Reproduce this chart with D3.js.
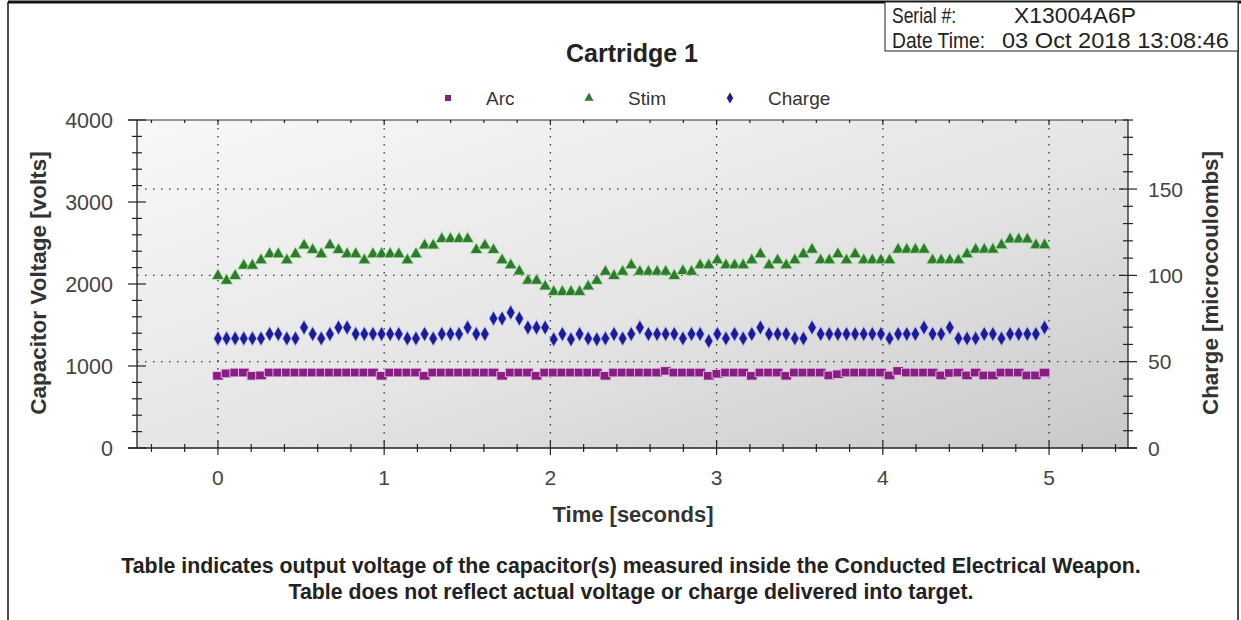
<!DOCTYPE html>
<html>
<head>
<meta charset="utf-8">
<script src="https://cdn.jsdelivr.net/npm/d3@7"></script>
<style>
  body { margin: 0; background: #fff; }
  text { font-family: "Liberation Sans", Arial, sans-serif; }
</style>
</head>
<body>
<div id="chart"></div>
<script>
// readings, one per sample (Arc and Stim in volts, Charge in microcoulombs)
var sampleInterval = 0.0518; // seconds between samples
var arcVolts = [880, 910, 920, 920, 880, 885, 920, 920, 920, 920, 920, 920, 920, 920, 920, 920, 920, 920, 920, 880,
  920, 920, 920, 920, 880, 920, 920, 920, 920, 920, 920, 920, 920, 880, 920, 920, 920, 880, 920, 920,
  920, 920, 920, 920, 920, 880, 920, 920, 920, 920, 920, 920, 940, 920, 920, 920, 920, 880, 905, 920,
  920, 920, 880, 920, 920, 920, 880, 920, 920, 920, 920, 885, 900, 920, 920, 920, 920, 920, 885, 940,
  920, 920, 920, 920, 885, 915, 920, 885, 920, 885, 885, 920, 920, 920, 885, 885, 920];
var stimVolts = [2100, 2040, 2100, 2225, 2225, 2290, 2365, 2365, 2290, 2365, 2470, 2415, 2365, 2475, 2415, 2365, 2365, 2290, 2365, 2365,
  2365, 2365, 2290, 2365, 2470, 2470, 2550, 2550, 2550, 2550, 2415, 2470, 2415, 2290, 2230, 2155, 2040, 2040, 1970, 1905,
  1905, 1905, 1905, 1970, 2040, 2150, 2100, 2150, 2230, 2150, 2150, 2150, 2150, 2100, 2160, 2150, 2230, 2230, 2290, 2230,
  2230, 2230, 2290, 2365, 2230, 2290, 2230, 2290, 2365, 2420, 2290, 2290, 2365, 2290, 2365, 2290, 2290, 2290, 2290, 2420,
  2420, 2420, 2420, 2290, 2290, 2290, 2290, 2365, 2420, 2420, 2420, 2475, 2545, 2545, 2545, 2475, 2475];
var chargeUC = [63.5, 63.5, 63.5, 63.5, 63.5, 63.5, 66, 66, 63.5, 63.5, 69.8, 66, 63.5, 66, 69.8, 69.8, 66, 66, 66, 66,
  66, 66, 63.5, 63.5, 66, 63.5, 66, 66, 66, 69.8, 66, 66, 75, 75, 78.5, 75, 69.8, 69.8, 69.8, 63,
  66, 63, 66, 63.5, 63, 63.5, 66, 63.5, 66, 69.8, 66, 66, 66, 66, 63.5, 66, 66, 62, 66, 63.5,
  66, 63.5, 66, 69.8, 66, 66, 66, 63.5, 63.5, 69.8, 66, 66, 66, 66, 66, 66, 66, 66, 63.5, 66,
  66, 66, 69.8, 66, 66, 69.8, 63.5, 63.5, 63.5, 66, 66, 63.5, 66, 66, 66, 66, 69.8];

var seriesNames = ["Arc", "Stim", "Charge"];
var voltTicks = [0, 1000, 2000, 3000, 4000];
var chargeTicks = [0, 50, 100, 150];
var timeTicks = [0, 1, 2, 3, 4, 5];

var W = 1241, H = 620;
var plot = {left: 137, right: 1128, top: 120, bottom: 448};

var svg = d3.select("#chart").append("svg")
    .attr("width", W)
    .attr("height", H);

// background gradient of the plot area
var defs = svg.append("defs");
var grad = defs.append("linearGradient")
    .attr("id", "bg")
    .attr("x1", "0%").attr("y1", "0%")
    .attr("x2", "100%").attr("y2", "100%");
grad.append("stop").attr("offset", "0%").attr("stop-color", "#f8f8f8");
grad.append("stop").attr("offset", "55%").attr("stop-color", "#e4e4e4");
grad.append("stop").attr("offset", "100%").attr("stop-color", "#c9c9c9");

// scales
var x = d3.scaleLinear().domain([-0.487, 5.475]).range([plot.left, plot.right]);
var yV = d3.scaleLinear().domain([0, 4000]).range([plot.bottom, plot.top]);
var yC = d3.scaleLinear().domain([0, 190]).range([plot.bottom, plot.top]);

// page border
svg.append("line").attr("x1", 8).attr("x2", 8).attr("y1", 2).attr("y2", H)
    .attr("stroke", "#111").attr("stroke-width", 1.5);
svg.append("line").attr("x1", 1238).attr("x2", 1238).attr("y1", 2).attr("y2", H)
    .attr("stroke", "#111").attr("stroke-width", 1.5);
svg.append("line").attr("x1", 8).attr("x2", W).attr("y1", 2).attr("y2", 2)
    .attr("stroke", "#111").attr("stroke-width", 3);

// serial / date box
svg.append("rect")
    .attr("x", 885).attr("y", 2).attr("width", 353).attr("height", 49)
    .attr("fill", "#fff").attr("stroke", "#222").attr("stroke-width", 1);
var infoLabels = ["Serial #:", "Date Time:"];
var infoValues = ["X13004A6P", "03 Oct 2018 13:08:46"];
var labelLen = [64, 93], valueX = [1014, 1002], valueLen = [122, 227];
infoLabels.forEach(function(l, i) {
  svg.append("text").attr("x", 892).attr("y", 23 + i * 25)
      .attr("font-size", "22px").attr("fill", "#222")
      .attr("textLength", labelLen[i]).attr("lengthAdjust", "spacingAndGlyphs")
      .text(l);
  svg.append("text").attr("x", valueX[i]).attr("y", 23 + i * 25)
      .attr("font-size", "22px").attr("fill", "#222")
      .attr("textLength", valueLen[i]).attr("lengthAdjust", "spacingAndGlyphs")
      .text(infoValues[i]);
});

// title
svg.append("text")
    .attr("x", 632).attr("y", 62)
    .attr("text-anchor", "middle")
    .attr("font-size", "25px")
    .attr("font-weight", 700)
    .attr("fill", "#222")
    .text("Cartridge 1");

// plot area
svg.append("rect")
    .attr("x", plot.left).attr("y", plot.top)
    .attr("width", plot.right - plot.left).attr("height", plot.bottom - plot.top)
    .attr("fill", "url(#bg)");

// gridlines (dotted)
var grid = svg.append("g").attr("stroke", "#333").attr("stroke-width", 1.3)
    .attr("stroke-dasharray", "1.5,6.5");
grid.selectAll(".vg").data(timeTicks).enter().append("line")
    .attr("x1", function(d) { return x(d); }).attr("x2", function(d) { return x(d); })
    .attr("y1", plot.top).attr("y2", plot.bottom);
grid.selectAll(".hg").data(chargeTicks.slice(1)).enter().append("line")
    .attr("x1", plot.left).attr("x2", plot.right)
    .attr("y1", function(d) { return yC(d); }).attr("y2", function(d) { return yC(d); });

// frame top line
svg.append("line").attr("x1", plot.left - 9).attr("x2", plot.right)
    .attr("y1", plot.top).attr("y2", plot.top)
    .attr("stroke", "#333").attr("stroke-width", 1.2);

// axes with crossing ticks
function crossTicks(g, vals, pos, len, orient) {
  g.selectAll(null).data(vals).enter().append("line")
      .attr("stroke", "#222").attr("stroke-width", 1.2)
      .each(function(d) {
        var s = d3.select(this), p = pos(d);
        if (orient === "v") s.attr("x1", p).attr("x2", p).attr("y1", plot.bottom - len).attr("y2", plot.bottom + len);
        else if (orient === "l") s.attr("y1", p).attr("y2", p).attr("x1", plot.left - len).attr("x2", plot.left + len);
        else if (orient === "r") s.attr("y1", p).attr("y2", p).attr("x1", plot.right - len).attr("x2", plot.right + len);
        else s.attr("x1", p).attr("x2", p).attr("y1", plot.top).attr("y2", plot.top + len);
      });
}

var axes = svg.append("g");
axes.append("line").attr("x1", plot.left - 9).attr("x2", plot.right + 9)
    .attr("y1", plot.bottom).attr("y2", plot.bottom).attr("stroke", "#222").attr("stroke-width", 1.3);
axes.append("line").attr("x1", plot.left).attr("x2", plot.left)
    .attr("y1", plot.top).attr("y2", plot.bottom).attr("stroke", "#222").attr("stroke-width", 1.3);
axes.append("line").attr("x1", plot.right).attr("x2", plot.right)
    .attr("y1", plot.top).attr("y2", plot.bottom).attr("stroke", "#222").attr("stroke-width", 1.3);

var xMinor = d3.range(-4, 55, 2).map(function(d) { return d / 10; }).filter(function(d) { return Math.abs(d - Math.round(d)) > 1e-6; });
var vMinor = d3.range(200, 4000, 200).filter(function(d) { return d % 1000 !== 0; });
var cMinor = d3.range(10, 191, 10).filter(function(d) { return d % 50 !== 0; });

crossTicks(axes, timeTicks, x, 7, "v");
crossTicks(axes, xMinor, x, 4, "v");
crossTicks(axes, timeTicks, x, 5, "t");
crossTicks(axes, xMinor, x, 3, "t");
crossTicks(axes, voltTicks, yV, 9, "l");
crossTicks(axes, vMinor, yV, 5, "l");
crossTicks(axes, chargeTicks, yC, 9, "r");
crossTicks(axes, cMinor, yC, 5, "r");

// tick labels
axes.selectAll(".xl").data(timeTicks).enter().append("text")
    .attr("x", function(d) { return x(d); }).attr("y", 485)
    .attr("text-anchor", "middle").attr("font-size", "21px").attr("fill", "#444")
    .text(function(d) { return d; });
axes.selectAll(".yl").data(voltTicks).enter().append("text")
    .attr("x", 113).attr("y", function(d) { return yV(d) + 7.5; })
    .attr("text-anchor", "end").attr("font-size", "21.5px").attr("fill", "#444")
    .text(function(d) { return d; });
axes.selectAll(".cl").data(chargeTicks).enter().append("text")
    .attr("x", 1148).attr("y", function(d) { return yC(d) + 7.5; })
    .attr("text-anchor", "start").attr("font-size", "21px").attr("fill", "#444")
    .text(function(d) { return d; });

// axis titles
svg.append("text")
    .attr("transform", "translate(46,283) rotate(-90)")
    .attr("text-anchor", "middle").attr("font-size", "22.5px").attr("font-weight", 700).attr("fill", "#333")
    .text("Capacitor Voltage [volts]");
svg.append("text")
    .attr("transform", "translate(1218,283) rotate(-90)")
    .attr("text-anchor", "middle").attr("font-size", "22.3px").attr("font-weight", 700).attr("fill", "#333")
    .text("Charge [microcoulombs]");
svg.append("text")
    .attr("x", 633).attr("y", 522)
    .attr("text-anchor", "middle").attr("font-size", "22px").attr("font-weight", 700).attr("fill", "#333")
    .text("Time [seconds]");

// series
var styles = {
  Arc:    {fill: "#84207f", halo: "#eab0e6", sym: d3.symbolSquare, size: 64},
  Stim:   {fill: "#2e7a2e", halo: "#a8dca0", sym: d3.symbolTriangle, size: 50},
  Charge: {fill: "#1c1c98", halo: "#b8b8ee", sym: d3.symbolDiamond, size: 52}
};
var series = [
  {name: "Arc", values: arcVolts, y: yV},
  {name: "Stim", values: stimVolts, y: yV},
  {name: "Charge", values: chargeUC, y: yC}
];

series.forEach(function(s) {
  var st = styles[s.name];
  var sym = d3.symbol().type(st.sym).size(st.size);
  svg.append("g").selectAll("path")
      .data(s.values)
      .enter().append("path")
      .attr("d", sym)
      .attr("transform", function(d, i) {
        return "translate(" + x(i * sampleInterval) + "," + s.y(d) + ")" + (s.name === "Arc" ? " scale(1.2,0.95)" : "");
      })
      .attr("fill", st.fill)
      .attr("stroke", st.halo)
      .attr("stroke-width", 1.6)
      .attr("paint-order", "stroke");
});

// legend
var legendX = [448, 589, 730];
var legendTextX = [486, 628, 768];
seriesNames.forEach(function(n, i) {
  var st = styles[n];
  svg.append("path")
      .attr("d", d3.symbol().type(st.sym).size(36))
      .attr("transform", "translate(" + legendX[i] + ",98)")
      .attr("fill", st.fill);
  svg.append("text")
      .attr("x", legendTextX[i]).attr("y", 105)
      .attr("font-size", "19px").attr("fill", "#333")
      .text(n);
});

// footnote
var notes = ["Table indicates output voltage of the capacitor(s) measured inside the Conducted Electrical Weapon.",
  "Table does not reflect actual voltage or charge delivered into target."];
notes.forEach(function(t, i) {
  svg.append("text")
      .attr("x", 631).attr("y", 573 + i * 26)
      .attr("text-anchor", "middle")
      .attr("font-size", "21.3px").attr("font-weight", 700).attr("fill", "#222")
      .text(t);
});
</script>
</body>
</html>
